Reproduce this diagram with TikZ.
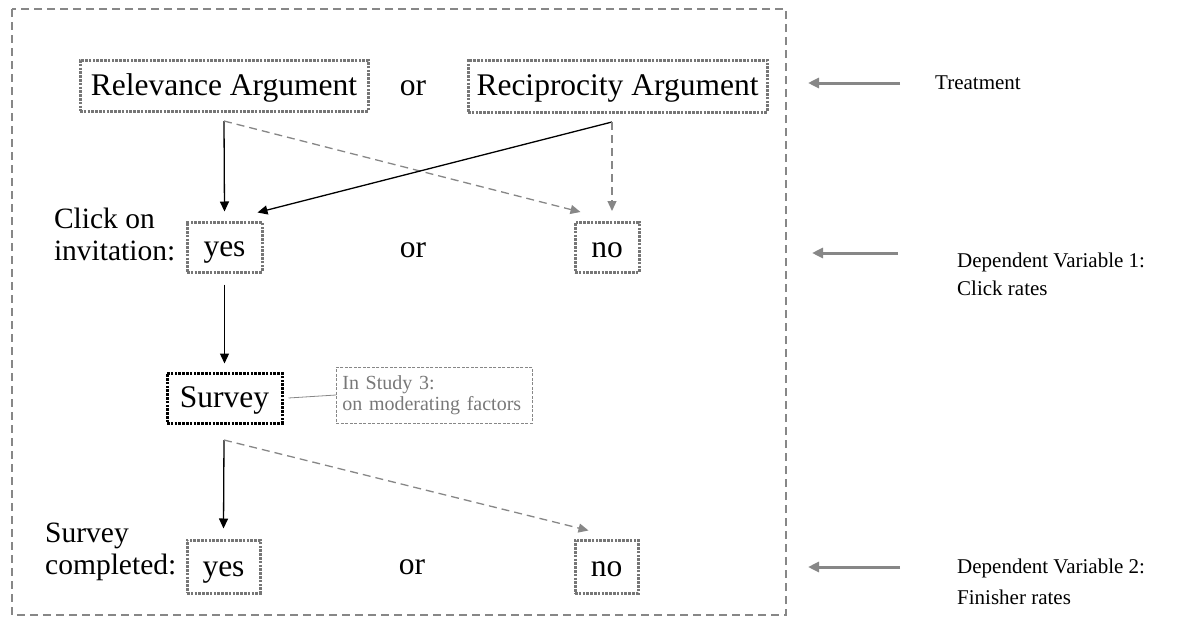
\documentclass[tikz,border=0pt]{standalone}
\usepackage{fontspec}
\setmainfont{Liberation Serif}
\usetikzlibrary{positioning,arrows.meta}

\definecolor{boxgrey}{RGB}{118,118,118}
\definecolor{dashgrey}{RGB}{135,135,135}
\definecolor{notegrey}{RGB}{120,120,120}

\tikzset{
  big/.style = {font=\fontsize{31.5}{32}\selectfont},
  rowlabel/.style = {font=\fontsize{29.5}{32}\selectfont, align=left, inner sep=0pt},
  optbox/.style = {big, draw=boxgrey, line width=3pt, dash pattern=on 2.6pt off 1.2pt,
                   minimum height=50pt, inner sep=0pt, text height=24pt, text depth=5pt},
  notebox/.style = {draw=dashgrey, line width=0.7pt, dash pattern=on 3pt off 1.5pt,
                    text=notegrey, font=\fontsize{20}{21}\selectfont,
                    text width=184pt, align=left, inner sep=6pt, minimum height=56pt},
  sidetext/.style = {font=\fontsize{21}{28}\selectfont, align=left, inner sep=0pt},
  yesarrow/.style = {line width=1.3pt, -{Triangle[length=10pt,width=9pt]}},
  noarrow/.style = {draw=dashgrey, line width=1.3pt, dash pattern=on 8pt off 5pt,
                    -{Triangle[length=10pt,width=9pt]}},
  sidearrow/.style = {draw=dashgrey, line width=3pt, -{Triangle[length=11pt,width=10pt]}}
}

\begin{document}
\begin{tikzpicture}[x=1pt, y=-1pt]
            \useasboundingbox (0,0) rectangle (1192,621);

            % frame round the study
            \draw [dashgrey, line width=1.2pt, dash pattern=on 8pt off 5pt]
            (12,9) rectangle (786,615);

            % treatment
            \node [optbox, minimum width=288pt, minimum height=51pt] (rel) at (224,85.5) {Relevance Argument};
            \node [big] (or1) at (413,88) {or};
            \node [optbox, minimum width=299pt, minimum height=52pt] (rec) at (617.5,86) {Reciprocity Argument};

            % click on invitation
            \node [optbox, minimum width=75pt] (cyes) at (224.5,247) {yes};
            \node [big] (or2) at (413,250) {or};
            \node [optbox, minimum width=64pt] (cno) at (607,247.5) {no};
            \node [rowlabel, left=10pt of cyes, yshift=13pt] (clickl) {Click on\\invitation:};

            % survey
            \node [optbox, draw=black, minimum width=115pt] (surv) at (224.5,398) {Survey};
            \node [notebox, anchor=west] (note) at (336,395) {In Study 3:\\on moderating factors};

            % survey completed
            \node [optbox, minimum width=73pt, minimum height=53pt] (fyes) at (223.5,566.5) {yes};
            \node [big] (or3) at (412,567) {or};
            \node [optbox, minimum width=63pt, minimum height=53pt] (fno) at (606.5,566.5) {no};
            \node [rowlabel, left=9pt of fyes, yshift=15pt] (donel) {Survey\\completed:};

            % branch points
            \coordinate (relo) at (224,121);
            \coordinate (reco) at (612,122);
            \coordinate (survo) at (224,440);
            \coordinate (cnotop) at ([yshift=10pt]cno.north);

            \draw [yesarrow] (relo) -- ([yshift=9pt]cyes.north);
            \draw [noarrow] (relo) -- ([shift={(7,-9)}]cno.north west);
            \draw [yesarrow] (reco) -- ([shift={(-6,-8)}]cyes.north east);
            \draw [noarrow] (reco) -- (reco |- cnotop);

            \draw [yesarrow] ([yshift=-11pt]cyes.south) -- ([yshift=8pt]surv.north);
            \draw [dashgrey, line width=0.8pt] ([xshift=5pt]surv.east) -- (note.west);

            \draw [yesarrow] (survo) -- ([yshift=10pt]fyes.north);
            \draw [noarrow] (survo) -- ([shift={(15,-8)}]fno.north west);

            % what is measured
            \node [sidetext, anchor=west] (treat) at (935,83) {Treatment};
            \node [sidetext, anchor=west] (dv1) at (957,274) {Dependent Variable 1:\\Click rates};
            \node [sidetext, anchor=west] (dv2) at (957,582) {Dependent Variable 2:\\[3pt]Finisher rates};

            \coordinate (t0) at (808,83);
            \coordinate (s1) at (898,253);
            \coordinate (t1) at (812,253);
            \coordinate (s2) at (900,567);
            \coordinate (t2) at (808,567);
            \draw [sidearrow] ([xshift=-35pt]treat.west) -- (t0);
            \draw [sidearrow] (s1) -- (t1);
            \draw [sidearrow] (s2) -- (t2);
        \end{tikzpicture}
\end{document}
